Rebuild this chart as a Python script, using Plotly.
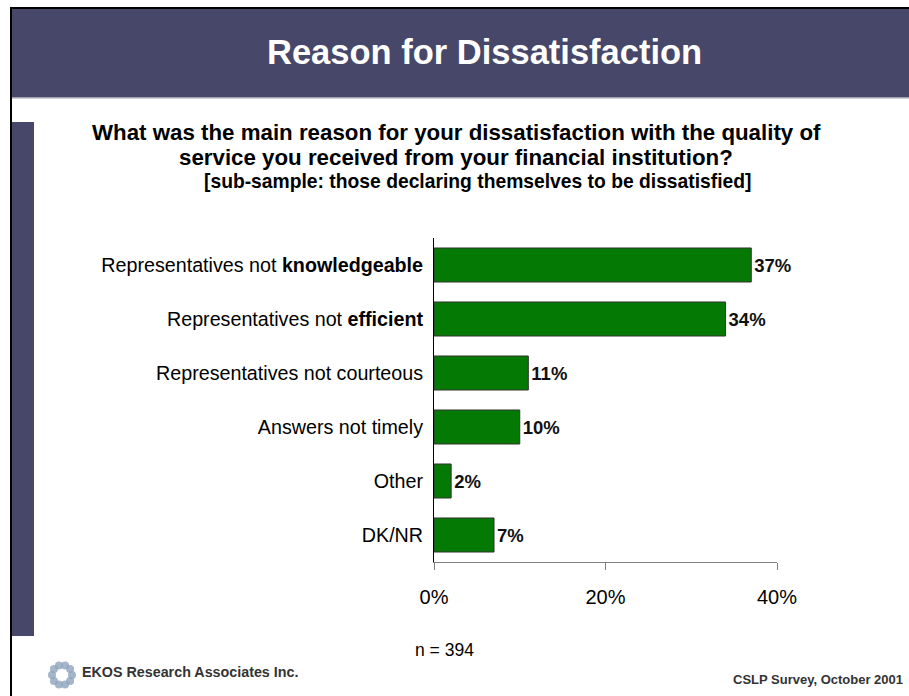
import plotly.graph_objects as go
import math

categories = [
    "Representatives not <b>knowledgeable</b>",
    "Representatives not <b>efficient</b>",
    "Representatives not courteous",
    "Answers not timely",
    "Other",
    "DK/NR",
]
values = [37, 34, 11, 10, 2, 7]
value_labels = ["37%", "34%", "11%", "10%", "2%", "7%"]
x_tickvals = [0, 20, 40]
x_ticktext = ["0%", "20%", "40%"]

title_text = "Reason for Dissatisfaction"
question_lines = [
    "What was the main reason for your dissatisfaction with the quality of",
    "service you received from your financial institution?",
]
subsample_text = "[sub-sample: those declaring themselves to be dissatisfied]"
n_text = "n = 394"
left_footer = "EKOS Research Associates Inc."
right_footer = "CSLP Survey, October 2001"

W, H = 909, 696
PX0, PX1, PY0, PY1 = 434, 777, 238, 562
NARROW = "Liberation Sans Narrow, Arial Narrow, Liberation Sans, Arial, sans-serif"
ARIAL = "Liberation Sans, Arial, sans-serif"
SLATE = "#474769"


def px(x):
    return (x - PX0) / (PX1 - PX0)


def py(y):
    return (PY1 - y) / (PY1 - PY0)


def rect(x0, y0, x1, y1, color, line=None):
    return dict(type="rect", xref="paper", yref="paper",
                x0=px(x0), x1=px(x1), y0=py(y1), y1=py(y0),
                fillcolor=color, line=dict(width=0) if line is None else line,
                layer="below")


fig = go.Figure(go.Bar(
    x=values, y=categories, orientation="h",
    marker=dict(color="#047A04", line=dict(color="#333333", width=1)),
    width=0.63,
    text=value_labels, textposition="outside",
    textfont=dict(family=ARIAL, size=18.5, color="#111111"),
    texttemplate="<b>%{text}</b>",
    cliponaxis=False, hoverinfo="skip",
))

shapes = [
    rect(10, 7, 12, 696, "#000000"),
    rect(10, 7, 909, 9, "#000000"),
    rect(12, 9, 909, 97, SLATE),
    rect(12, 97, 909, 98.5, "#A0A0B0"),
    rect(12, 122, 34, 636, SLATE),
]
# small swirl logo
cx, cy = 62, 675
for i in range(10):
    a = 2 * math.pi * i / 10
    r = 10
    x = cx + r * math.cos(a)
    y = cy + r * math.sin(a)
    shapes.append(dict(type="circle", xref="paper", yref="paper",
                       x0=px(x - 4), x1=px(x + 4), y0=py(y + 4), y1=py(y - 4),
                       fillcolor="#8FA3BD", line=dict(width=0), opacity=0.8))

annotations = [
    dict(text=f"<b>{title_text}</b>", x=px(484), y=py(52), xref="paper", yref="paper",
         showarrow=False, font=dict(family=ARIAL, size=34.5, color="white"),
         xanchor="center", yanchor="middle"),
    dict(text=f"<b>{question_lines[0]}</b>", x=px(456), y=py(133), xref="paper", yref="paper",
         showarrow=False, font=dict(family=NARROW, size=22.3, color="black"),
         xanchor="center", yanchor="middle"),
    dict(text=f"<b>{question_lines[1]}</b>", x=px(456), y=py(157), xref="paper", yref="paper",
         showarrow=False, font=dict(family=NARROW, size=22.3, color="black"),
         xanchor="center", yanchor="middle"),
    dict(text=f"<b>{subsample_text}</b>", x=px(478), y=py(181), xref="paper", yref="paper",
         showarrow=False, font=dict(family=NARROW, size=19.3, color="black"),
         xanchor="center", yanchor="middle"),
    dict(text=n_text, x=px(444), y=py(650), xref="paper", yref="paper",
         showarrow=False, font=dict(family=NARROW, size=17.5, color="black"),
         xanchor="center", yanchor="middle"),
    dict(text=f"<b>{left_footer}</b>", x=px(80), y=py(672), xref="paper", yref="paper",
         showarrow=False, font=dict(family=ARIAL, size=14.3, color="#333333"),
         xanchor="left", yanchor="middle"),
    dict(text=f"<b>{right_footer}</b>", x=px(905), y=py(679), xref="paper", yref="paper",
         showarrow=False, font=dict(family=ARIAL, size=13, color="#333333"),
         xanchor="right", yanchor="middle"),
]

fig.update_layout(
    width=W, height=H,
    margin=dict(l=PX0, r=W - PX1, t=PY0, b=H - PY1, pad=0),
    paper_bgcolor="white", plot_bgcolor="white",
    showlegend=False,
    shapes=shapes, annotations=annotations,
    bargap=0.37,
)
fig.update_xaxes(
    range=[0, 40], tickvals=x_tickvals, ticktext=x_ticktext,
    showgrid=False, zeroline=False,
    showline=True, linecolor="#808080", linewidth=1,
    ticks="outside", ticklen=7, tickcolor="#808080",
    tickfont=dict(family=ARIAL, size=20, color="black"),
    ticklabelstandoff=10,
)
fig.update_yaxes(
    autorange="reversed", showgrid=False, zeroline=False,
    showline=True, linecolor="black", linewidth=1, ticks="",
    tickfont=dict(family=NARROW, size=19.7, color="black"),
    ticklabelstandoff=6,
)

fig.write_html(
    "out.html",
    config={"displayModeBar": False},
    post_script="document.body.style.margin='0';document.body.style.overflow='hidden';",
)
